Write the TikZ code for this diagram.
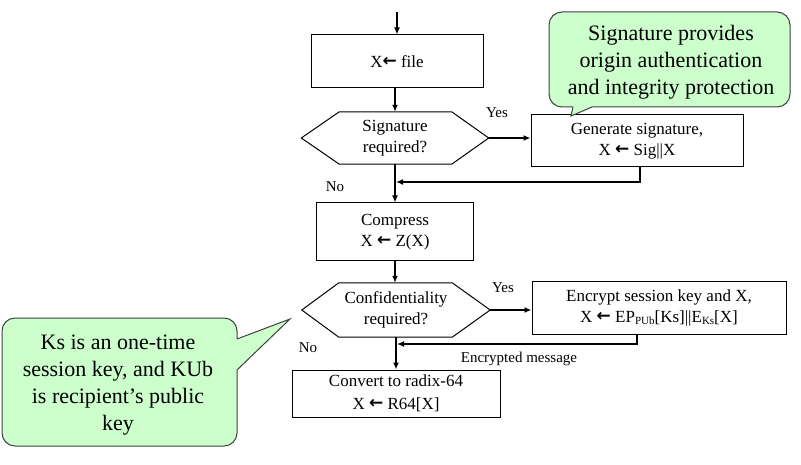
\documentclass[tikz,border=0pt]{standalone}
\usepackage{fontspec}
\setmainfont{Liberation Serif}
\newfontfamily\arrowfont{DejaVu Sans}
\newcommand{\larr}{{\arrowfont\bfseries\raisebox{0.1ex}{←}}}
\usetikzlibrary{arrows.meta,calc}
\definecolor{calloutgreen}{RGB}{204,255,204}
\begin{document}
\begin{tikzpicture}[x=1pt,y=-1pt,
  box/.style={draw,line width=1pt,inner sep=0pt,align=center,font=\fontsize{17}{21}\selectfont},
  hexn/.style={inner sep=0pt,align=center,font=\fontsize{17}{21}\selectfont},
  hexline/.style={line width=1pt},
  arr/.style={line width=1.8pt,-{Latex[length=7pt,width=6pt]}},
  lbl/.style={inner sep=0pt,font=\fontsize{15}{18}\selectfont},
  callout/.style={draw=black!75,fill=calloutgreen,line width=1pt,rounded corners=13,inner sep=0pt},
  tailfill/.style={fill=calloutgreen},
  tailline/.style={draw=black!75,line width=1pt,line join=miter},
  ctext/.style={align=center,inner sep=0pt,font=\fontsize{22}{27}\selectfont}]
\useasboundingbox (0,0) rectangle (801,465);

% flow nodes
\node[box,minimum width=172,minimum height=53] (file) at (397,61.5) {X\larr\ file};
\node[hexn,minimum width=187,minimum height=52] (sig) at (395,138) {Signature\\required?};
\node[box,minimum width=212,minimum height=52] (gen) at (637,141) {Generate signature,\\X \larr\ Sig||X};
\node[box,minimum width=157,minimum height=58] (comp) at (395,232) {Compress\\X \larr\ Z(X)};
\node[hexn,minimum width=188,minimum height=54] (conf) at (396,310) {Confidentiality\\required?};
\node[box,minimum width=254,minimum height=52] (enc) at (659,308) {Encrypt session key and X,\\X \larr\ EP{\fontsize{11}{11}\selectfont\raisebox{-0.35ex}{PUb}}[Ks]||E{\fontsize{11}{11}\selectfont\raisebox{-0.35ex}{Ks}}[X]};
\node[box,minimum width=208,minimum height=47,font=\fontsize{17}{23}\selectfont] (conv) at (396,393.5) {Convert to radix-64\\X \larr\ R64[X]};

% hexagon outlines
\draw[hexline] (sig.west) -- ([xshift=38]sig.north west) -- ([xshift=-37]sig.north east) -- (sig.east) -- ([xshift=-37]sig.south east) -- ([xshift=38]sig.south west) -- cycle;
\draw[hexline] (conf.west) -- ([xshift=37]conf.north west) -- ([xshift=-38]conf.north east) -- (conf.east) -- ([xshift=-38]conf.south east) -- ([xshift=37]conf.south west) -- cycle;

% connectors
\coordinate (start) at (397,12);
\coordinate (j1) at (396,182);
\coordinate (j2) at (397,344);
\draw[arr] (start) -- (file.north);
\draw[arr] (file.south -| sig.north) -- (sig.north);
\draw[arr] (sig.east) -- (gen.west |- sig.east);
\draw[arr] (sig.south) -- (sig.south |- comp.north);
\draw[arr] ([xshift=3]gen.south) |- (j1);
\draw[arr] (comp.south) -- (comp.south |- conf.north);
\draw[arr] (conf.east) -- (enc.west |- conf.east);
\draw[arr] (conf.south) -- (conv.north);
\draw[arr] ([xshift=-22]enc.south) |- (j2);

% labels
\node[lbl] (yes1) at (497,113) {Yes};
\node[lbl] (no1) at (335,187) {No};
\node[lbl] (yes2) at (503,288) {Yes};
\node[lbl] (no2) at (308,348) {No};
\node[lbl] (encmsg) at (519,359) {Encrypted message};

% callout 1
\node[callout,minimum width=241,minimum height=95] (c1) at (669.5,59.5) {};
\coordinate (c1a) at (573,107);
\coordinate (c1tip) at (571,116);
\coordinate (c1b) at (592,107);
\fill[tailfill] (c1a) -- (c1tip) -- (c1b) -- (592,104) -- (573,104) -- cycle;
\draw[tailline] (c1a) -- (c1tip) -- (c1b);
\node[ctext] (c1t) at (671,62) {Signature provides\\origin authentication\\and integrity protection};

% callout 2
\node[callout,minimum width=235,minimum height=128] (c2) at (119.5,382) {};
\coordinate (c2a) at (237,339);
\coordinate (c2tip) at (290,319);
\coordinate (c2b) at (237,370);
\fill[tailfill] (234,339.5) -- (c2a) -- (c2tip) -- (c2b) -- (234,369.5) -- cycle;
\draw[tailline] (c2a) -- (c2tip) -- (c2b);
\node[ctext] (c2t) at (118,385) {Ks is an one-time\\session key, and KUb\\is recipient’s public\\key};
\end{tikzpicture}
\end{document}
